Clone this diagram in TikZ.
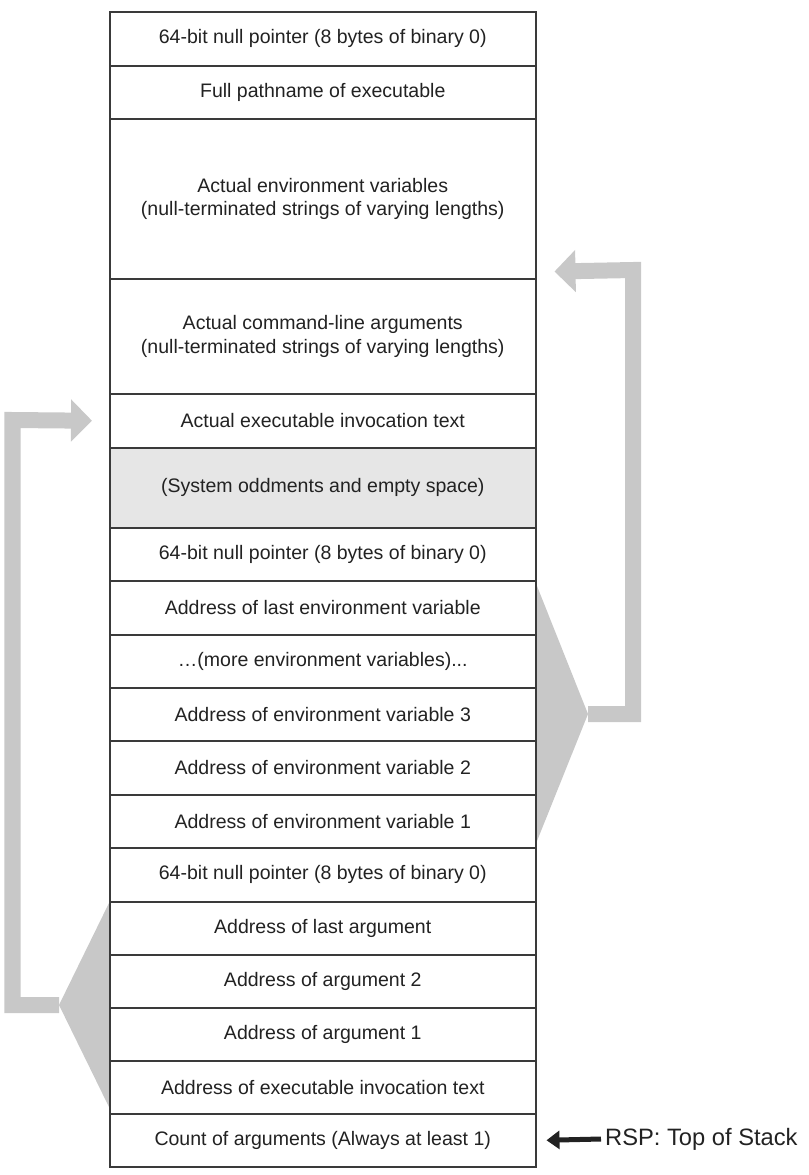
\documentclass[tikz,border=0pt]{standalone}
\usepackage{fontspec}
\setmainfont{Liberation Sans}
\usetikzlibrary{arrows.meta,calc}
\definecolor{txt}{HTML}{222222}
\definecolor{edge}{HTML}{3A3A3A}
\definecolor{band}{HTML}{C8C8C8}
\definecolor{shade}{HTML}{E6E6E6}
\begin{document}
\begin{tikzpicture}[x=1bp,y=-1bp,
  row/.style={draw=edge,line width=1.5bp,fill=white,minimum width=426bp,inner sep=0pt,
    text=txt,align=center,font=\fontsize{19.6}{23.5}\selectfont,anchor=north west},
  shaded/.style={row,fill=shade},
  bandline/.style={draw=band,line width=16bp,-{Triangle[length=21bp,width=41bp]}},
  fan/.style={fill=band,draw=none},
  rsparrow/.style={draw=txt,line width=5bp,-{Triangle[length=13bp,width=18bp]}}
]
\useasboundingbox (0,0) rectangle (809,1175);
% fans (behind)
\coordinate (apexR) at (588,714);
\coordinate (apexL) at (59,1005);
\fill[fan] (535,581) -- (apexR) -- (535,846) -- cycle;
\fill[fan] (109,903) -- (apexL) -- (109,1107) -- cycle;
% rows
\node[row,minimum height=54bp] (r1) at (109,11) {64-bit null pointer (8 bytes of binary 0)};
\node[row,minimum height=53bp] (r2) at (109,65) {Full pathname of executable};
\node[row,minimum height=160bp] (r3) at (109,118) {Actual environment variables\\(null-terminated strings of varying lengths)};
\node[row,minimum height=115bp] (r4) at (109,278) {Actual command-line arguments\\(null-terminated strings of varying lengths)};
\node[row,minimum height=54bp] (r5) at (109,393) {Actual executable invocation text};
\node[shaded,minimum height=80bp] (r6) at (109,447) {(System oddments and empty space)};
\node[row,minimum height=53bp] (r7) at (109,527) {64-bit null pointer (8 bytes of binary 0)};
\node[row,minimum height=54bp] (r8) at (109,580) {Address of last environment variable};
\node[row,minimum height=53bp] (r9) at (109,634) {…(more environment variables)...};
\node[row,minimum height=53bp] (r10) at (109,687) {Address of environment variable 3};
\node[row,minimum height=54bp] (r11) at (109,740) {Address of environment variable 2};
\node[row,minimum height=53bp] (r12) at (109,794) {Address of environment variable 1};
\node[row,minimum height=54bp] (r13) at (109,847) {64-bit null pointer (8 bytes of binary 0)};
\node[row,minimum height=53bp] (r14) at (109,901) {Address of last argument};
\node[row,minimum height=53bp] (r15) at (109,954) {Address of argument 2};
\node[row,minimum height=53bp] (r16) at (109,1007) {Address of argument 1};
\node[row,minimum height=53bp] (r17) at (109,1060) {Address of executable invocation text};
\node[row,minimum height=53bp] (r18) at (109,1113) {Count of arguments (Always at least 1)};
% bands
\draw[bandline] (apexR) -- (633,714) -- (633,270) -- ($(r3.south east)+(18,-8)$);
\draw[bandline] (apexL) -- (12.5,1005) -- (12.5,420) -- ($(r5.west)+(-17,0)$);
% RSP
\node[anchor=west,text=txt,inner sep=0pt,font=\fontsize{23.8}{28}\selectfont] (rsp) at (605,1139) {RSP: Top of Stack};
\draw[rsparrow] ($(rsp.west)+(-4,0)$) -- ($(r18.east)+(10,0)$);
\end{tikzpicture}
\end{document}
